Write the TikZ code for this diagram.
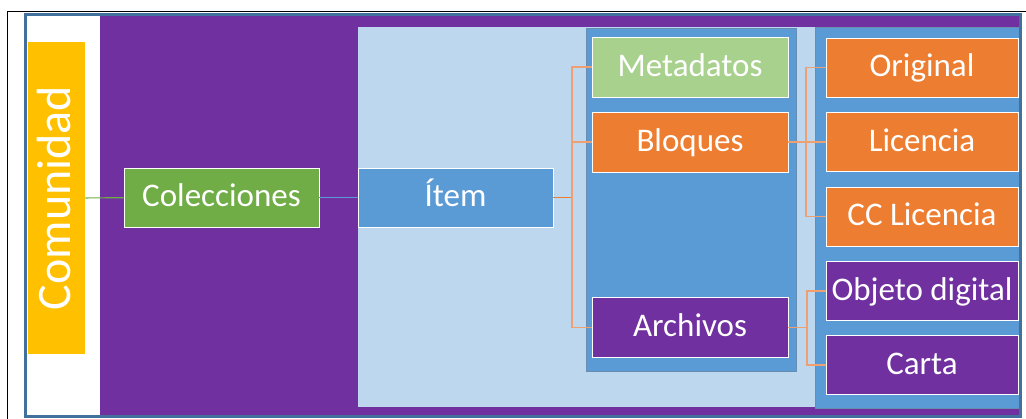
\documentclass[tikz,border=0pt]{standalone}
\usepackage{fontspec}
\setmainfont{Carlito}
\usepackage{tikz}
\usetikzlibrary{positioning}
\definecolor{dspurple}{HTML}{7030A0}
\definecolor{dsblue}{HTML}{5B9BD5}
\definecolor{dslightblue}{HTML}{BDD7EE}
\definecolor{dsorange}{HTML}{ED7D31}
\definecolor{dspeach}{HTML}{F0A070}
\definecolor{dsgreen}{HTML}{70AD47}
\definecolor{dslightgreen}{HTML}{A9D18E}
\definecolor{dsyellow}{HTML}{FFC000}
\definecolor{dsframe}{HTML}{41719C}

\begin{document}
\begin{tikzpicture}[x=1pt,y=-1pt]
                    \tikzstyle{every node}+=[inner sep=0pt]
                    \tikzstyle{box}=[draw=white, line width=0.8pt, text=white, text height=24pt, text depth=5pt,
                                     font=\fontsize{33}{36}\selectfont]
                    \tikzstyle{midbox}=[box, minimum width=196pt, minimum height=60pt]
                    \tikzstyle{rightbox}=[box, minimum width=192pt, minimum height=59pt]
                    \tikzstyle{stem}=[dsorange, line width=1.8pt]
                    \tikzstyle{branch}=[dspeach, line width=1.4pt]
                    \useasboundingbox (0,0) rectangle (1026,419);
                    \draw [black, line width=1pt] (7,419) -- (7,12) -- (1026,12);
                    \fill [white] (25.5,14.5) rectangle (1020,417);
                    \fill [dspurple] (100,16) rectangle (1018.5,415.5);
                    \fill [dslightblue] (358,27) rectangle (1018.5,407);
                    \filldraw [fill=dsblue, draw=dsframe!80, line width=0.8pt] (586,28) rectangle (796,371);
                    \filldraw [fill=dsblue, draw=dsframe!80, line width=0.8pt] (815,27) rectangle (1020,408);
                    \node [box, draw=none, fill=dsyellow, rotate=90, minimum width=312pt, minimum height=57pt,
                           text height=34pt, text depth=7pt,
                           font=\fontsize{48}{52}\selectfont] (comunidad) at (56.5,198) {Comunidad};
                    \node [box, fill=dsgreen, minimum width=195pt, minimum height=59pt] (colecciones) at (221.5,197.5) {Colecciones};
                    \node [box, fill=dsblue, minimum width=195pt, minimum height=59pt] (item) at (455.5,197.5) {Ítem};
                    \node [midbox, fill=dslightgreen] (metadatos) at (690,67) {Metadatos};
                    \node [midbox, fill=dsorange] (bloques) at (690,142) {Bloques};
                    \node [midbox, fill=dspurple] (archivos) at (690,327.5) {Archivos};
                    \node [rightbox, fill=dsorange] (original) at (922,67.5) {Original};
                    \node [rightbox, fill=dsorange] (licencia) at (922,142) {Licencia};
                    \node [rightbox, fill=dsorange] (cclicencia) at (922,216.5) {CC Licencia};
                    \node [rightbox, fill=dspurple] (objeto) at (922,291) {Objeto digital};
                    \node [rightbox, fill=dspurple] (carta) at (922,365) {Carta};
                    \coordinate (itemfork) at (572,197.5);
                    \coordinate (bloquesfork) at (806,142);
                    \coordinate (archivosfork) at (807,327.5);
                    \draw [dsgreen, line width=1.2pt] (comunidad) -- (colecciones);
                    \draw [dsblue, line width=1.2pt] (colecciones) -- (item);
                    \draw [stem] (item.east) -- (itemfork);
                    \draw [branch] (itemfork) |- (metadatos.west);
                    \draw [branch] (itemfork) |- (bloques.west);
                    \draw [branch] (itemfork) |- (archivos.west);
                    \draw [branch] (bloques.east) -- (bloquesfork);
                    \draw [branch] (bloquesfork) |- (original.west);
                    \draw [branch] (bloquesfork) |- (licencia.west);
                    \draw [branch] (bloquesfork) |- (cclicencia.west);
                    \draw [branch] (archivos.east) -- (archivosfork);
                    \draw [branch] (archivosfork) |- (objeto.west);
                    \draw [branch] (archivosfork) |- (carta.west);
                    \draw [dsframe, line width=3pt] (25.5,14.5) rectangle (1020,417);
                \end{tikzpicture}
\end{document}
